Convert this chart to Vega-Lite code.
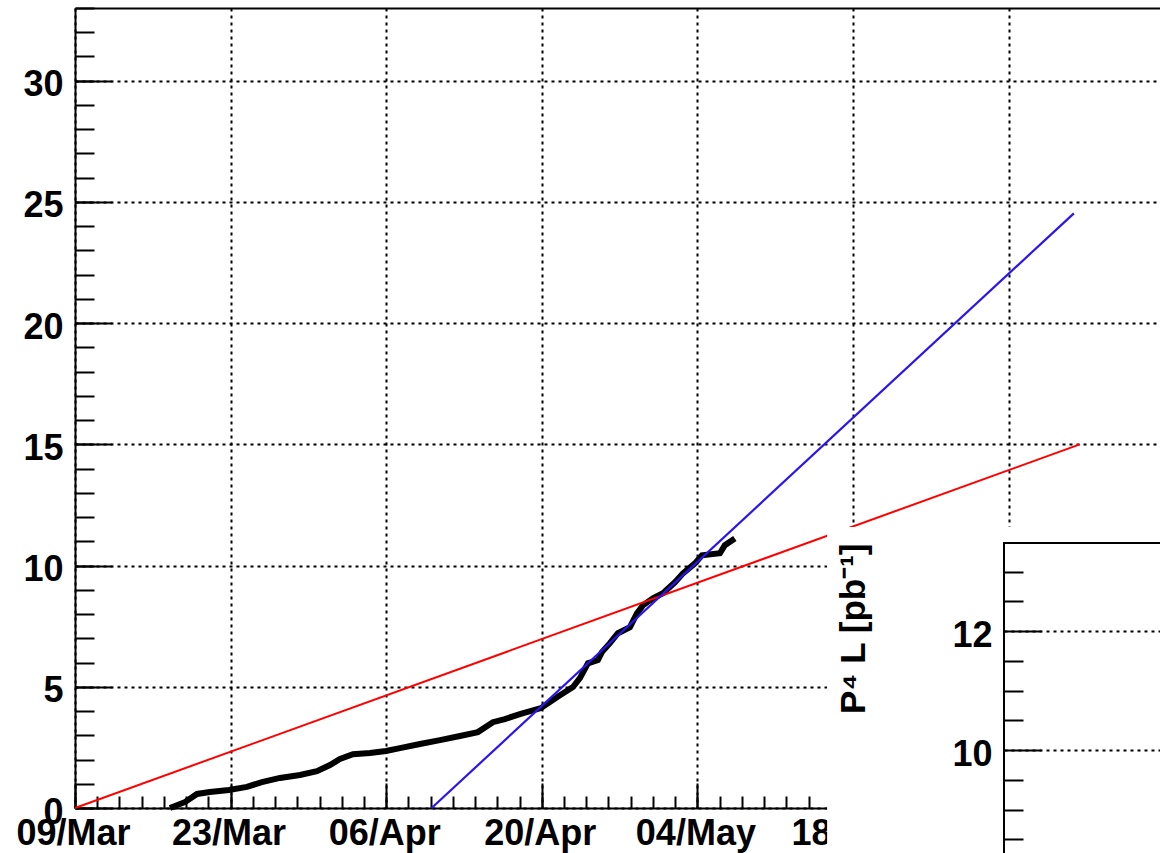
{
  "$schema": "https://vega.github.io/schema/vega-lite/v6.json",
  "width": 1085,
  "height": 800,
  "autosize": {"type": "none"},
  "padding": {"left": 75, "top": 8, "right": 0, "bottom": 45},
  "background": "white",
  "config": {
    "view": {"stroke": null},
    "font": "Liberation Sans",
    "axis": {
      "labelFont": "Liberation Sans",
      "labelFontWeight": "bold",
      "labelFontSize": 36,
      "labelColor": "black",
      "tickColor": "black",
      "tickWidth": 2,
      "domainColor": "black",
      "domainWidth": 2,
      "gridColor": "black",
      "gridDash": [3, 4],
      "gridWidth": 2,
      "gridOpacity": 1,
      "labelFlush": false,
      "labelOverlap": false,
      "titleFont": "Liberation Sans",
      "titleColor": "black"
    }
  },
  "datasets": {
    "lumi": [
      {"t": "2011-03-17T13:00:00Z", "L": 0},
      {"t": "2011-03-18T22:00:00Z", "L": 0.25},
      {"t": "2011-03-19T23:30:00Z", "L": 0.58},
      {"t": "2011-03-21T03:20:00Z", "L": 0.66},
      {"t": "2011-03-22T20:24:00Z", "L": 0.74},
      {"t": "2011-03-24T11:17:00Z", "L": 0.87},
      {"t": "2011-03-25T19:41:00Z", "L": 1.07},
      {"t": "2011-03-27T10:34:00Z", "L": 1.24},
      {"t": "2011-03-29T05:46:00Z", "L": 1.36},
      {"t": "2011-03-30T18:29:00Z", "L": 1.52},
      {"t": "2011-03-31T22:34:00Z", "L": 1.77},
      {"t": "2011-04-01T20:10:00Z", "L": 2.02},
      {"t": "2011-04-03T00:14:00Z", "L": 2.22},
      {"t": "2011-04-04T12:58:00Z", "L": 2.27},
      {"t": "2011-04-05T23:31:00Z", "L": 2.35},
      {"t": "2011-04-07T05:46:00Z", "L": 2.47},
      {"t": "2011-04-09T00:58:00Z", "L": 2.64},
      {"t": "2011-04-10T20:10:00Z", "L": 2.8},
      {"t": "2011-04-12T15:22:00Z", "L": 2.97},
      {"t": "2011-04-14T06:00:00Z", "L": 3.13},
      {"t": "2011-04-15T14:24:00Z", "L": 3.54},
      {"t": "2011-04-16T16:19:00Z", "L": 3.67},
      {"t": "2011-04-18T00:43:00Z", "L": 3.87},
      {"t": "2011-04-19T22:05:00Z", "L": 4.12},
      {"t": "2011-04-21T08:38:00Z", "L": 4.57},
      {"t": "2011-04-22T19:12:00Z", "L": 4.99},
      {"t": "2011-04-23T10:19:00Z", "L": 5.36},
      {"t": "2011-04-24T03:36:00Z", "L": 5.97},
      {"t": "2011-04-25T01:12:00Z", "L": 6.1},
      {"t": "2011-04-25T09:50:00Z", "L": 6.43},
      {"t": "2011-04-26T03:07:00Z", "L": 6.8},
      {"t": "2011-04-26T20:24:00Z", "L": 7.21},
      {"t": "2011-04-27T22:19:00Z", "L": 7.46},
      {"t": "2011-04-28T13:26:00Z", "L": 8.03},
      {"t": "2011-04-29T02:24:00Z", "L": 8.36},
      {"t": "2011-04-30T00:00:00Z", "L": 8.65},
      {"t": "2011-04-30T21:36:00Z", "L": 8.86},
      {"t": "2011-05-01T23:31:00Z", "L": 9.31},
      {"t": "2011-05-02T16:48:00Z", "L": 9.68},
      {"t": "2011-05-03T18:43:00Z", "L": 10.09},
      {"t": "2011-05-04T09:50:00Z", "L": 10.42},
      {"t": "2011-05-06T00:43:00Z", "L": 10.51},
      {"t": "2011-05-06T11:17:00Z", "L": 10.84},
      {"t": "2011-05-07T08:53:00Z", "L": 11.12}
    ],
    "fitRed": [
      {"t": "2011-03-09T00:00:00Z", "L": 0},
      {"t": "2011-06-07T09:50:00Z", "L": 15.0}
    ],
    "fitBlue": [
      {"t": "2011-04-10T02:10:00Z", "L": 0},
      {"t": "2011-06-06T21:00:00Z", "L": 24.53}
    ],
    "pad": [{"x1": -1.45, "x2": 3, "y1": 7.5, "y2": 13.75}],
    "frame": [{"x1": 0, "x2": 3, "y1": 7.5, "y2": 13.479}]
  },
  "layer": [
    {
      "layer": [
        {
          "data": {"name": "lumi"},
          "mark": {"type": "line", "color": "black", "strokeWidth": 6},
          "encoding": {
            "x": {
              "field": "t", "type": "temporal",
              "scale": {"type": "utc", "domain": [1299628800000, 1308063600000], "nice": false},
              "axis": {
                "orient": "bottom", "title": null,
                "values": [1299628800000, 1300838400000, 1302048000000, 1303257600000, 1304467200000, 1305676800000, 1306886400000],
                "format": "%d/%b", "tickSize": -25, "labelPadding": 33.6, "labelOffset": -2,
                "grid": true, "domain": true
              }
            },
            "y": {
              "field": "L", "type": "quantitative",
              "scale": {"domain": [0, 33], "nice": false, "zero": false},
              "axis": {
                "orient": "left", "title": null,
                "values": [0, 5, 10, 15, 20, 25, 30],
                "tickSize": -37, "labelPadding": 49, "labelOffset": 4,
                "grid": true, "domain": true
              }
            }
          }
        },
        {
          "data": {"name": "fitRed"},
          "mark": {"type": "line", "color": "#ff0000", "strokeWidth": 2},
          "encoding": {
            "x": {
              "field": "t", "type": "temporal",
              "axis": {
                "orient": "bottom", "title": null, "labels": false, "grid": false, "domain": false,
                "tickSize": -12,
                "values": [1299628800000, 1299801600000, 1299974400000, 1300147200000, 1300320000000, 1300492800000, 1300665600000, 1300838400000, 1301011200000, 1301184000000, 1301356800000, 1301529600000, 1301702400000, 1301875200000, 1302048000000, 1302220800000, 1302393600000, 1302566400000, 1302739200000, 1302912000000, 1303084800000, 1303257600000, 1303430400000, 1303603200000, 1303776000000, 1303948800000, 1304121600000, 1304294400000, 1304467200000, 1304640000000, 1304812800000, 1304985600000, 1305158400000, 1305331200000, 1305504000000, 1305676800000, 1305849600000, 1306022400000, 1306195200000, 1306368000000, 1306540800000, 1306713600000, 1306886400000, 1307059200000, 1307232000000, 1307404800000, 1307577600000, 1307750400000, 1307923200000]
              }
            },
            "y": {
              "field": "L", "type": "quantitative",
              "axis": {
                "orient": "left", "title": null, "labels": false, "grid": false, "domain": false,
                "tickSize": -19,
                "values": [0, 1, 2, 3, 4, 5, 6, 7, 8, 9, 10, 11, 12, 13, 14, 15, 16, 17, 18, 19, 20, 21, 22, 23, 24, 25, 26, 27, 28, 29, 30, 31, 32, 33]
              }
            }
          }
        },
        {
          "data": {"name": "fitBlue"},
          "mark": {"type": "line", "color": "#2a14f0", "strokeWidth": 2.2},
          "encoding": {
            "x": {
              "field": "t", "type": "temporal",
              "axis": {"orient": "top", "title": null, "labels": false, "ticks": false, "grid": false, "domain": true}
            },
            "y": {"field": "L", "type": "quantitative", "axis": null}
          }
        }
      ],
      "resolve": {"axis": {"x": "independent", "y": "independent"}}
    },
    {
      "layer": [
        {
          "data": {"name": "pad"},
          "mark": {"type": "rect", "fill": "white"},
          "encoding": {
            "x": {
              "field": "x1", "type": "quantitative",
              "scale": {"domain": [0, 2], "range": [929, 1173], "nice": false, "zero": false},
              "axis": null
            },
            "x2": {"field": "x2"},
            "y": {
              "field": "y1", "type": "quantitative",
              "scale": {"domain": [8.269, 13.479], "range": [845, 535], "nice": false, "zero": false},
              "axis": {
                "orient": "left", "offset": -929, "zindex": 1, "title": null,
                "labels": false, "grid": false, "domain": false, "tickSize": -19,
                "values": [8.5, 9, 9.5, 10.5, 11, 11.5, 12.5, 13]
              }
            },
            "y2": {"field": "y2"}
          }
        },
        {
          "data": {"name": "frame"},
          "mark": {"type": "rect", "fill": "white", "stroke": "black", "strokeWidth": 2},
          "encoding": {
            "x": {
              "field": "x1", "type": "quantitative",
              "axis": {"orient": "bottom", "zindex": 1, "title": null, "values": [1], "grid": true, "ticks": false, "labels": false, "domain": false}
            },
            "x2": {"field": "x2"},
            "y": {
              "field": "y1", "type": "quantitative",
              "axis": {
                "orient": "left", "offset": -929, "zindex": 1,
                "values": [10, 12], "tickSize": -37, "labelPadding": 49, "labelOffset": 4,
                "grid": true, "domain": false,
                "title": "P⁴ L [pb⁻¹]", "titleFontSize": 35, "titleFontWeight": "bold",
                "titleAnchor": "end", "titlePadding": 80
              }
            },
            "y2": {"field": "y2"}
          }
        }
      ],
      "resolve": {"axis": {"y": "independent"}}
    }
  ],
  "resolve": {"scale": {"x": "independent", "y": "independent"}}
}
